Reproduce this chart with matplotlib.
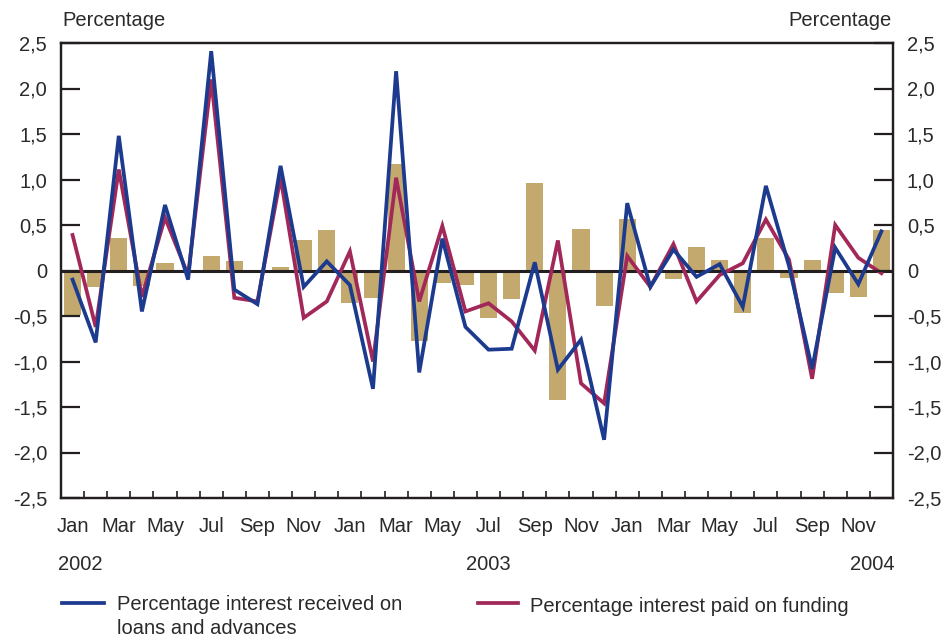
import matplotlib
matplotlib.use("Agg")
import matplotlib.pyplot as plt
import numpy as np
from matplotlib.lines import Line2D

plt.rcParams['font.family'] = ['Liberation Sans', 'DejaVu Sans']

months = ["Jan", "Feb", "Mar", "Apr", "May", "Jun", "Jul", "Aug", "Sep", "Oct", "Nov", "Dec"] * 3
years = ["2002", "2003", "2004"]

received = [-0.10, -0.79, 1.48, -0.45, 0.72, -0.10, 2.41, -0.21, -0.37, 1.15, -0.18, 0.10,
            -0.16, -1.30, 2.19, -1.12, 0.35, -0.62, -0.87, -0.86, 0.09, -1.09, -0.76, -1.86,
            0.74, -0.18, 0.23, -0.07, 0.07, -0.40, 0.93, 0.05, -1.08, 0.25, -0.15, 0.43]
paid = [0.39, -0.62, 1.11, -0.29, 0.58, -0.05, 2.10, -0.30, -0.34, 1.02, -0.52, -0.34,
        0.21, -1.00, 1.02, -0.34, 0.49, -0.45, -0.36, -0.56, -0.88, 0.33, -1.24, -1.46,
        0.16, -0.18, 0.29, -0.34, -0.05, 0.08, 0.56, 0.12, -1.19, 0.50, 0.14, -0.03]
spread = [-0.49, -0.18, 0.36, -0.17, 0.08, 0.01, 0.16, 0.10, 0.01, 0.04, 0.33, 0.44,
          -0.36, -0.30, 1.17, -0.78, -0.14, -0.16, -0.52, -0.31, 0.96, -1.42, 0.46, -0.39,
          0.57, 0.00, -0.09, 0.26, 0.11, -0.47, 0.36, -0.08, 0.11, -0.25, -0.29, 0.45]

yticks = [2.5, 2.0, 1.5, 1.0, 0.5, 0, -0.5, -1.0, -1.5, -2.0, -2.5]

def fmt(v):
    if v == 0:
        return "0"
    return f"{v:.1f}".replace(".", ",")

blue = "#1c3a8e"
red = "#a3285a"
tan = "#c4a96f"
dark = "#231f20"
txt = "#2a2a2a"
FS = 14.5

fig = plt.figure(figsize=(9.44, 6.4), dpi=100)
ax = fig.add_axes([61/944, 1-498/640, (893-61)/944, (498-43)/640])

x = np.arange(len(months))
ax.bar(x, spread, width=0.74, color=tan, zorder=1)
ax.axhline(0, color=dark, lw=2.2, zorder=2)
ax.plot(x, paid, color=red, lw=2.7, zorder=3, solid_joinstyle='miter')
ax.plot(x, received, color=blue, lw=2.7, zorder=4, solid_joinstyle='miter')

ax.set_xlim(-0.5, len(months) - 0.5)
ax.set_ylim(-2.5, 2.5)
ax.set_yticks(yticks)
ax.set_yticklabels([fmt(v) for v in yticks], fontsize=FS, color=txt)
ax.tick_params(axis='y', direction='in', length=14, width=1.6, color=dark, pad=10)

ax.set_xticks(np.arange(-0.5, len(months), 1.0))
ax.set_xticklabels([])
ax.tick_params(axis='x', direction='in', length=5, width=1.2, color=dark)

for s in ax.spines.values():
    s.set_color(dark)
    s.set_linewidth(1.6)

ax2 = ax.twinx()
ax2.set_ylim(-2.5, 2.5)
ax2.set_yticks(yticks)
ax2.set_yticklabels([fmt(v) for v in yticks], fontsize=FS, color=txt)
ax2.tick_params(axis='y', direction='in', length=14, width=1.6, color=dark, pad=10)
for s in ax2.spines.values():
    s.set_color(dark)
    s.set_linewidth(1.6)

# month labels
for i in range(0, len(months), 2):
    ax.text(i, -0.063, months[i], transform=ax.get_xaxis_transform(), ha='center', va='center',
            fontsize=FS, color=txt)

yr_y = 1 - 565/640
fig.text(58/944, yr_y, years[0], ha='left', va='center', fontsize=FS, color=txt)
ax.text(18, -0.147, years[1], transform=ax.get_xaxis_transform(), ha='center', va='center',
        fontsize=FS, color=txt)
fig.text(895/944, yr_y, years[2], ha='right', va='center', fontsize=FS, color=txt)

fig.text(62/944, 1-21/640, "Percentage", ha='left', va='center', fontsize=FS, color=txt)
fig.text(892/944, 1-21/640, "Percentage", ha='right', va='center', fontsize=FS, color=txt)

# legend
fig.add_artist(Line2D([62/944, 104/944], [1-603/640, 1-603/640], color=blue, lw=2.7))
fig.text(117/944, 1-604/640, "Percentage interest received on", ha='left', va='center',
         fontsize=FS, color=txt)
fig.text(117/944, 1-628/640, "loans and advances", ha='left', va='center',
         fontsize=FS, color=txt)
fig.add_artist(Line2D([478/944, 518/944], [1-603/640, 1-603/640], color=red, lw=2.7))
fig.text(530/944, 1-606/640, "Percentage interest paid on funding",
         ha='left', va='center', fontsize=FS, color=txt)

fig.savefig("out.png", dpi=100)
